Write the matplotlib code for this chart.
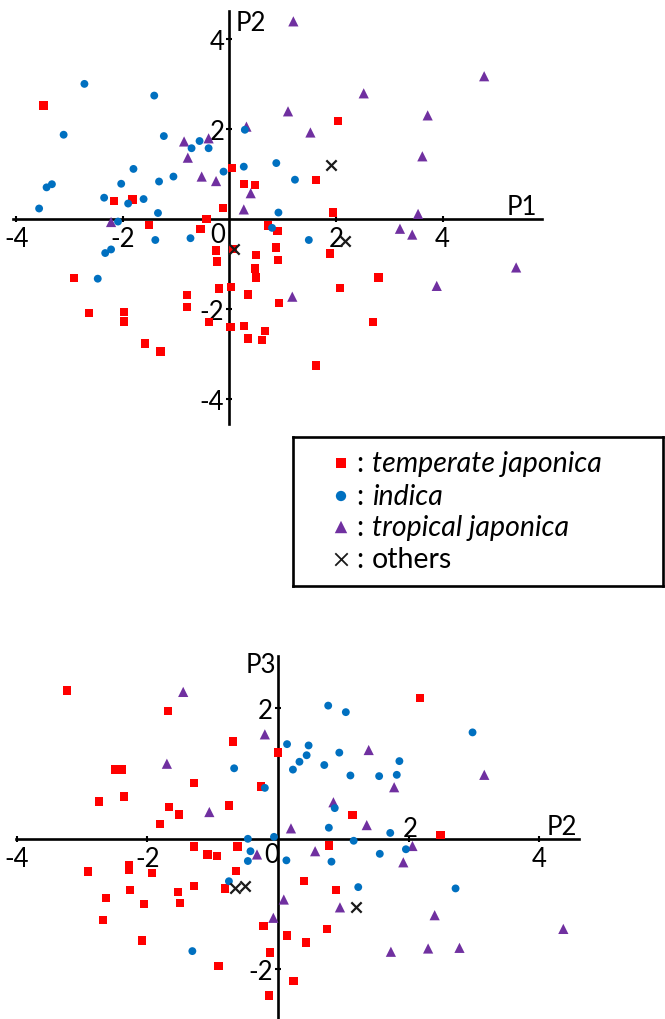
import matplotlib
matplotlib.use('Agg')
import matplotlib.pyplot as plt

plt.rcParams['font.family'] = ['Lato', 'DejaVu Sans']

RED = '#FF0000'
BLUE = '#0070C0'
PURPLE = '#7030A0'
BLACK = '#1a1a1a'

# ---------------- Top panel: P1 vs P2 ----------------
tj_p1 = [-3.49, 0.05, -2.17, -1.82, -0.12, -0.43, 2.04, 1.62, 0.27, 0.48, 1.94, -1.51,
         -0.54, -0.25, 0.07, -0.23, -2.91, -0.20, 0.03, -0.79, -0.80, -2.64, -1.98, -1.98,
         -0.38, 0.02, -1.58, -1.29, 0.73, 0.90, 0.87, 0.50, 0.91, 1.89, 0.48, 0.50, 2.80,
         2.07, 0.35, 0.93, 0.28, 2.69, 0.67, 0.35, 0.61, 1.62]
tj_p2 = [2.52, 1.13, 0.39, 0.43, 0.24, 0.00, 2.18, 0.87, 0.78, 0.75, 0.14, -0.13,
         -0.22, -0.70, -0.67, -0.95, -1.31, -1.55, -1.52, -1.70, -1.96, -2.10, -2.07, -2.28,
         -2.30, -2.41, -2.77, -2.95, -0.15, -0.27, -0.64, -0.81, -0.92, -0.77, -1.10, -1.30, -1.30,
         -1.54, -1.68, -1.87, -2.38, -2.30, -2.50, -2.66, -2.70, -3.26]

ind_p1 = [-2.72, -1.41, -3.11, -1.23, -0.56, -0.71, -0.39, -1.80, -1.05, -0.11, -1.32, -2.03,
          -3.43, -3.33, -2.35, -1.61, -1.90, -3.57, -1.34, 0.29, 0.27, 0.88, 1.23, 0.92,
          -2.09, -1.39, -0.73, -2.22, -2.33, -2.47, 0.80, 1.49]
ind_p2 = [3.00, 2.74, 1.87, 1.84, 1.73, 1.57, 1.57, 1.11, 0.94, 1.05, 0.83, 0.78,
          0.70, 0.77, 0.47, 0.44, 0.34, 0.23, 0.13, 1.98, 1.16, 1.24, 0.87, 0.14,
          -0.06, -0.47, -0.43, -0.68, -0.76, -1.33, -0.20, -0.47]

trj_p1 = [-0.85, -0.39, -0.78, -0.52, -0.25, 1.20, 4.78, 2.52, 1.10, 3.72, 0.32, 1.52,
          3.62, 0.40, 0.27, 3.54, -2.22, 3.20, 3.43, 5.38, 3.89, 1.18]
trj_p2 = [1.72, 1.79, 1.36, 0.94, 0.84, 4.39, 3.17, 2.79, 2.39, 2.30, 2.05, 1.92,
          1.39, 0.57, 0.21, 0.11, -0.07, -0.22, -0.35, -1.08, -1.49, -1.73]

oth_p1 = [1.90, 2.17, 0.09]
oth_p2 = [1.19, -0.50, -0.67]

# ---------------- Bottom panel: P2 vs P3 ----------------
tj_b_p2 = [-3.23, -1.68, -0.69, 0.00, -2.49, -2.39, -1.28, -0.26, -2.74, -2.36, -1.67, -1.51,
           -0.75, -1.81, 2.18, 1.14, 2.49, -1.28, -1.08, -0.93, -0.62, -2.91, -2.28, -2.28,
           -1.93, -0.64, -0.81, -1.28, -2.26, -1.53, -2.63, -2.05, -1.50, -2.68, -0.22, -2.08,
           -0.12, -0.91, -0.14, 0.78, 0.40, 0.89, 0.75, 0.14, 0.43, 0.24]
tj_b_p3 = [2.27, 1.96, 1.49, 1.32, 1.06, 1.06, 0.85, 0.80, 0.57, 0.65, 0.49, 0.37,
           0.51, 0.23, 2.16, 0.36, 0.06, -0.12, -0.24, -0.26, -0.12, -0.50, -0.41, -0.47,
           -0.52, -0.49, -0.76, -0.72, -0.78, -0.81, -0.91, -1.00, -0.98, -1.24, -1.34, -1.56,
           -1.74, -1.95, -2.40, -0.10, -0.65, -0.78, -1.38, -1.48, -1.59, -2.18]

ind_b_p2 = [-0.67, -0.20, -0.46, -0.06, 0.77, 1.04, 2.98, 0.14, 0.47, 0.94, 0.44, 0.33,
            1.86, 0.23, 0.71, 1.11, 1.55, 1.82, 0.87, 0.78, 1.72, -0.42, -0.46, -0.75,
            -1.31, 1.16, 1.96, 1.56, 0.13, 0.82, 1.23, 2.72]
ind_b_p3 = [1.08, 0.78, 0.00, 0.03, 2.04, 1.94, 1.63, 1.45, 1.43, 1.32, 1.28, 1.18,
            1.19, 1.06, 1.13, 0.97, 0.96, 0.98, 0.47, 0.17, 0.09, -0.19, -0.34, -0.65,
            -1.72, -0.03, -0.16, -0.23, -0.33, -0.35, -0.74, -0.76]

trj_b_p2 = [-1.45, -0.20, -1.70, -1.05, 1.39, 3.16, 1.78, 0.85, 0.20, 1.36, -0.32, -0.07,
            2.06, 0.57, 1.92, 0.09, 0.95, 2.40, 4.37, 1.73, 2.30, 2.78]
trj_b_p3 = [2.25, 1.60, 1.15, 0.41, 1.36, 0.98, 0.79, 0.56, 0.16, 0.21, -0.24, -1.21,
            -0.11, -0.19, -0.36, -0.93, -1.05, -1.17, -1.38, -1.73, -1.68, -1.67]

oth_b_p2 = [-0.66, -0.51, 1.19]
oth_b_p3 = [-0.75, -0.73, -1.05]

legend_labels = ['temperate japonica', 'indica', 'tropical japonica', 'others']
legend_italic = [True, True, True, False]

W, H = 665, 1020
FS = 18.5
fig = plt.figure(figsize=(W / 100, H / 100), dpi=100)


def add_px_axes(x0, y0, x1, y1):
    return fig.add_axes([x0 / W, 1 - y1 / H, (x1 - x0) / W, (y1 - y0) / H])


def style(ax, xlim, ylim, xticks, xlabels, yticks, ylabels):
    ax.set_xlim(*xlim)
    ax.set_ylim(*ylim)
    ax.patch.set_alpha(0)
    for s in ['top', 'right']:
        ax.spines[s].set_visible(False)
    for s in ['left', 'bottom']:
        ax.spines[s].set_position(('data', 0))
        ax.spines[s].set_linewidth(1.9)
        ax.spines[s].set_color('black')
    ax.set_xticks(xticks)
    ax.set_xticklabels(xlabels)
    ax.set_yticks(yticks)
    ax.set_yticklabels(ylabels)
    ax.tick_params(axis='both', direction='inout', length=5, width=1.5,
                   labelsize=FS, colors='black')
    ax.tick_params(axis='x', pad=2.5)
    ax.tick_params(axis='y', pad=1.2)


def scatter_groups(ax, groups):
    for xs, ys, marker, color, size in groups:
        if marker == 'x':
            ax.scatter(xs, ys, marker='x', s=size, c=color, linewidths=1.6,
                       zorder=5, clip_on=False)
        else:
            ax.scatter(xs, ys, marker=marker, s=size, c=color, edgecolors='none',
                       zorder=4, clip_on=False)


# ---- top axes
ax1 = add_px_axes(13, 12, 542, 425)
style(ax1, (-4.06, 5.865), (-4.56, 4.62),
      [-4, -2, 2, 4], ['-4', '-2', '2', '4'],
      [-4, -2, 2, 4], ['-4', '-2', '2', '4'])
scatter_groups(ax1, [
    (tj_p1, tj_p2, 's', RED, 36),
    (trj_p1, trj_p2, '^', PURPLE, 54),
    (ind_p1, ind_p2, 'o', BLUE, 32),
    (oth_p1, oth_p2, 'x', BLACK, 55),
])
ax1.text(-0.22, -0.51, '0', fontsize=FS, ha='center', va='baseline')
ax1.text(0.12, 4.2, 'P2', fontsize=FS, ha='left', va='baseline')
ax1.text(5.2, 0.11, 'P1', fontsize=FS, ha='left', va='baseline')

# ---- bottom axes
ax2 = add_px_axes(16, 657, 579, 1020)
style(ax2, (-4.01, 4.61), (-2.76, 2.80),
      [-4, -2, 2, 4], ['-4', '-2', '', '4'],
      [-2, 2], ['-2', '2'])
scatter_groups(ax2, [
    (tj_b_p2, tj_b_p3, 's', RED, 36),
    (trj_b_p2, trj_b_p3, '^', PURPLE, 54),
    (ind_b_p2, ind_b_p3, 'o', BLUE, 32),
    (oth_b_p2, oth_b_p3, 'x', BLACK, 55),
])
ax2.text(-0.09, -0.35, '0', fontsize=FS, ha='center', va='baseline')
ax2.text(2.02, 0.05, '2', fontsize=FS, ha='center', va='baseline')
ax2.text(-0.02, 2.56, 'P3', fontsize=FS, ha='right', va='baseline')
ax2.text(4.12, 0.08, 'P2', fontsize=FS, ha='left', va='baseline')

# ---- legend box
lx0, ly0, lx1, ly1 = 293, 438, 663, 587
axl = add_px_axes(lx0, ly0, lx1, ly1)
axl.set_xlim(lx0, lx1)
axl.set_ylim(ly1, ly0)
axl.set_xticks([])
axl.set_yticks([])
for s in axl.spines.values():
    s.set_linewidth(1.9)
    s.set_color('black')
leg_markers = [('s', RED, 60), ('o', BLUE, 55), ('^', PURPLE, 80), ('x', BLACK, 80)]
row_base = [472, 505, 536, 568]
for (m, c, sz), lab, ital, yb in zip(leg_markers, legend_labels, legend_italic, row_base):
    yc = yb - 8
    if m == 'x':
        axl.scatter([341], [yc], marker='x', s=sz, c=c, linewidths=1.3)
    else:
        axl.scatter([341], [yc], marker=m, s=sz, c=c, edgecolors='none')
    axl.text(356, yb, ':', fontsize=20.5, ha='left', va='baseline')
    axl.text(372, yb, lab, fontsize=20.5, ha='left', va='baseline',
             style='italic' if ital else 'normal')

fig.savefig('out.png', dpi=100)
